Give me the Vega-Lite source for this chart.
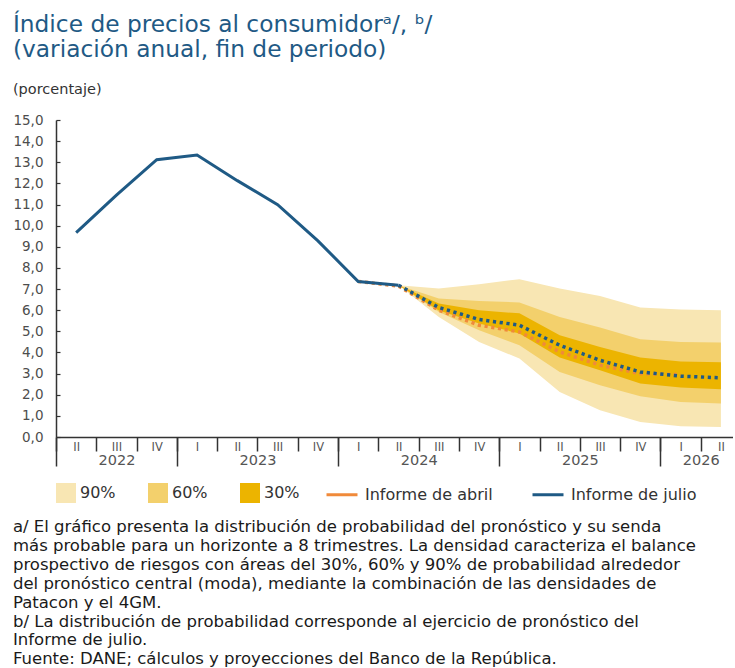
{
  "$schema": "https://vega.github.io/schema/vega-lite/v6.json",
  "padding": {"left": 12, "top": 13, "right": 0, "bottom": 0},
  "config": {
    "view": {"stroke": null},
    "font": "DejaVu Sans",
    "axis": {"grid": false},
    "axisY": {"labelOverlap": false, "labelBound": false},
    "legend": {"layout": {"bottom": {"anchor": "start", "margin": 25}}}
  },
  "title": {
    "text": [
      "a/ El gráfico presenta la distribución de probabilidad del pronóstico y su senda",
      "más probable para un horizonte a 8 trimestres. La densidad caracteriza el balance",
      "prospectivo de riesgos con áreas del 30%, 60% y 90% de probabilidad alrededor",
      "del pronóstico central (moda), mediante la combinación de las densidades de",
      "Patacon y el 4GM.",
      "b/ La distribución de probabilidad corresponde al ejercicio de pronóstico del",
      "Informe de julio.",
      "Fuente: DANE; cálculos y proyecciones del Banco de la República."
    ],
    "orient": "bottom",
    "anchor": "start",
    "frame": "bounds",
    "font": "DejaVu Sans",
    "fontSize": 16.5,
    "fontWeight": "normal",
    "color": "#1a1a1a",
    "lineHeight": 18.9,
    "offset": 16
  },
  "datasets": {
    "hist": [
      {"t": 0.5, "v": 9.67, "serie": "Informe de julio"},
      {"t": 1.5, "v": 11.44, "serie": "Informe de julio"},
      {"t": 2.5, "v": 13.12, "serie": "Informe de julio"},
      {"t": 3.5, "v": 13.34, "serie": "Informe de julio"},
      {"t": 4.5, "v": 12.13, "serie": "Informe de julio"},
      {"t": 5.5, "v": 10.99, "serie": "Informe de julio"},
      {"t": 6.5, "v": 9.28, "serie": "Informe de julio"},
      {"t": 7.5, "v": 7.36, "serie": "Informe de julio"},
      {"t": 8.5, "v": 7.18, "serie": "Informe de julio"}
    ],
    "julio": [
      {"t": 8.5, "v": 7.18, "serie": "Informe de julio"},
      {"t": 9.5, "v": 6.13, "serie": "Informe de julio"},
      {"t": 10.5, "v": 5.56, "serie": "Informe de julio"},
      {"t": 11.5, "v": 5.29, "serie": "Informe de julio"},
      {"t": 12.5, "v": 4.34, "serie": "Informe de julio"},
      {"t": 13.5, "v": 3.63, "serie": "Informe de julio"},
      {"t": 14.5, "v": 3.08, "serie": "Informe de julio"},
      {"t": 15.5, "v": 2.88, "serie": "Informe de julio"},
      {"t": 16.5, "v": 2.80, "serie": "Informe de julio"}
    ],
    "abril": [
      {"t": 7.5, "v": 7.36, "serie": "Informe de abril"},
      {"t": 8.5, "v": 7.14, "serie": "Informe de abril"},
      {"t": 9.5, "v": 6.00, "serie": "Informe de abril"},
      {"t": 10.5, "v": 5.29, "serie": "Informe de abril"},
      {"t": 11.5, "v": 4.97, "serie": "Informe de abril"},
      {"t": 12.5, "v": 4.03, "serie": "Informe de abril"},
      {"t": 13.5, "v": 3.40, "serie": "Informe de abril"},
      {"t": 14.5, "v": 3.00, "serie": "Informe de abril"},
      {"t": 15.5, "v": 2.95, "serie": "Informe de abril"}
    ],
    "fan": [
      {"t": 8.5, "band": "90%", "lo": 7.18, "hi": 7.18},
      {"t": 9.5, "band": "90%", "lo": 5.68, "hi": 7.03},
      {"t": 10.5, "band": "90%", "lo": 4.50, "hi": 7.23},
      {"t": 11.5, "band": "90%", "lo": 3.71, "hi": 7.47},
      {"t": 12.5, "band": "90%", "lo": 2.13, "hi": 7.03},
      {"t": 13.5, "band": "90%", "lo": 1.26, "hi": 6.67},
      {"t": 14.5, "band": "90%", "lo": 0.71, "hi": 6.13},
      {"t": 15.5, "band": "90%", "lo": 0.51, "hi": 6.03},
      {"t": 16.5, "band": "90%", "lo": 0.47, "hi": 6.00},
      {"t": 8.5, "band": "60%", "lo": 7.18, "hi": 7.18},
      {"t": 9.5, "band": "60%", "lo": 5.92, "hi": 6.55},
      {"t": 10.5, "band": "60%", "lo": 5.05, "hi": 6.43},
      {"t": 11.5, "band": "60%", "lo": 4.34, "hi": 6.37},
      {"t": 12.5, "band": "60%", "lo": 3.08, "hi": 5.68},
      {"t": 13.5, "band": "60%", "lo": 2.45, "hi": 5.18},
      {"t": 14.5, "band": "60%", "lo": 1.93, "hi": 4.63},
      {"t": 15.5, "band": "60%", "lo": 1.66, "hi": 4.50},
      {"t": 16.5, "band": "60%", "lo": 1.58, "hi": 4.47},
      {"t": 8.5, "band": "30%", "lo": 7.18, "hi": 7.18},
      {"t": 9.5, "band": "30%", "lo": 5.98, "hi": 6.32},
      {"t": 10.5, "band": "30%", "lo": 5.37, "hi": 6.00},
      {"t": 11.5, "band": "30%", "lo": 4.90, "hi": 5.85},
      {"t": 12.5, "band": "30%", "lo": 3.76, "hi": 4.82},
      {"t": 13.5, "band": "30%", "lo": 3.16, "hi": 4.26},
      {"t": 14.5, "band": "30%", "lo": 2.53, "hi": 3.76},
      {"t": 15.5, "band": "30%", "lo": 2.34, "hi": 3.57},
      {"t": 16.5, "band": "30%", "lo": 2.26, "hi": 3.54}
    ]
  },
  "vconcat": [
    {
      "width": 677,
      "height": 317,
      "title": {
        "text": ["Índice de precios al consumidorᵃ/, ᵇ/", "(variación anual, fin de periodo)"],
        "subtitle": "(porcentaje)",
        "anchor": "start",
        "frame": "bounds",
        "font": "DejaVu Sans",
        "fontSize": 23.3,
        "fontWeight": "normal",
        "color": "#1F5A85",
        "lineHeight": 25,
        "subtitleFont": "DejaVu Sans",
        "subtitleFontSize": 14.5,
        "subtitleColor": "#333333",
        "subtitlePadding": 20,
        "offset": 16
      },
      "resolve": {"axis": {"x": "independent", "y": "shared"}},
      "layer": [
        {
          "data": {"name": "fan"},
          "transform": [{"filter": "datum.band === '90%'"}],
          "mark": {"type": "area", "opacity": 1},
          "encoding": {
            "x": {
              "field": "t", "type": "quantitative",
              "scale": {"domain": [0, 16.8], "nice": false, "zero": false},
              "axis": {
                "orient": "bottom", "title": null,
                "values": [0.5, 1.5, 2.5, 3.5, 4.5, 5.5, 6.5, 7.5, 8.5, 9.5, 10.5, 11.5, 12.5, 13.5, 14.5, 15.5, 16.5],
                "ticks": false, "domain": true, "domainColor": "#333333", "domainWidth": 1.5,
                "labelExpr": "['I','II','III','IV'][(floor(datum.value)+1)%4]",
                "labelFont": "DejaVu Sans", "labelFontSize": 11.5, "labelColor": "#555555",
                "labelPadding": 4, "labelFlush": false, "labelOverlap": false
              }
            },
            "y": {
              "field": "lo", "type": "quantitative", "title": null,
              "scale": {"domain": [0, 15], "nice": false},
              "axis": {
                "title": null,
                "values": [0, 1, 2, 3, 4, 5, 6, 7, 8, 9, 10, 11, 12, 13, 14, 15],
                "labelExpr": "replace(format(datum.value, '.1f'), '.', ',')",
                "labelFont": "DejaVu Sans", "labelFontSize": 13.5, "labelColor": "#4d4d4d",
                "tickSize": -4, "tickColor": "#333333", "tickWidth": 1.2,
                "labelPadding": 17,
                "domainColor": "#333333", "domainWidth": 1.5,
                "labelFlush": false, "labelOverlap": false
              }
            },
            "y2": {"field": "hi"},
            "color": {
              "field": "band", "type": "nominal",
              "scale": {"domain": ["90%", "60%", "30%"], "range": ["#F8E6B3", "#F3D06C", "#ECB400"]},
              "legend": {
                "orient": "bottom", "direction": "horizontal", "title": null,
                "symbolType": "square", "symbolSize": 400, "symbolStrokeWidth": 0, "symbolOpacity": 1,
                "labelFont": "DejaVu Sans", "labelFontSize": 16, "labelColor": "#333333",
                "labelOffset": 4, "columnPadding": 32, "offset": 16, "padding": 0
              }
            }
          }
        },
        {
          "data": {"name": "fan"},
          "transform": [{"filter": "datum.band === '60%'"}],
          "mark": {"type": "area", "opacity": 1},
          "encoding": {
            "x": {
              "field": "t", "type": "quantitative",
              "axis": {
                "orient": "bottom", "title": null,
                "values": [0, 1, 2, 3, 4, 5, 6, 7, 8, 9, 10, 11, 12, 13, 14, 15, 16],
                "ticks": true, "tickSize": 14, "tickColor": "#333333", "tickWidth": 1.5,
                "labels": false, "domain": false
              }
            },
            "y": {
              "field": "lo", "type": "quantitative", "title": null,
              "axis": {
                "title": null,
                "values": [0, 1, 2, 3, 4, 5, 6, 7, 8, 9, 10, 11, 12, 13, 14, 15],
                "labelExpr": "replace(format(datum.value, '.1f'), '.', ',')",
                "labelFont": "DejaVu Sans", "labelFontSize": 13.5, "labelColor": "#4d4d4d",
                "tickSize": -4, "tickColor": "#333333", "tickWidth": 1.2,
                "labelPadding": 17,
                "domainColor": "#333333", "domainWidth": 1.5,
                "labelFlush": false, "labelOverlap": false
              }
            },
            "y2": {"field": "hi"},
            "color": {"field": "band", "type": "nominal"}
          }
        },
        {
          "data": {"name": "fan"},
          "transform": [{"filter": "datum.band === '30%'"}],
          "mark": {"type": "area", "opacity": 1},
          "encoding": {
            "x": {
              "field": "t", "type": "quantitative",
              "axis": {
                "orient": "bottom", "title": null,
                "values": [0, 3, 7, 11, 15],
                "ticks": true, "tickSize": 29, "tickColor": "#333333", "tickWidth": 1.5,
                "labels": false, "domain": false
              }
            },
            "y": {
              "field": "lo", "type": "quantitative", "title": null,
              "axis": {
                "title": null,
                "values": [0, 1, 2, 3, 4, 5, 6, 7, 8, 9, 10, 11, 12, 13, 14, 15],
                "labelExpr": "replace(format(datum.value, '.1f'), '.', ',')",
                "labelFont": "DejaVu Sans", "labelFontSize": 13.5, "labelColor": "#4d4d4d",
                "tickSize": -4, "tickColor": "#333333", "tickWidth": 1.2,
                "labelPadding": 17,
                "domainColor": "#333333", "domainWidth": 1.5,
                "labelFlush": false, "labelOverlap": false
              }
            },
            "y2": {"field": "hi"},
            "color": {"field": "band", "type": "nominal"}
          }
        },
        {
          "data": {"name": "abril"},
          "mark": {"type": "line", "strokeWidth": 3.5, "strokeDash": [3.2, 3.6]},
          "encoding": {
            "x": {"field": "t", "type": "quantitative", "axis": null},
            "y": {
              "field": "v", "type": "quantitative", "title": null,
              "axis": {
                "title": null,
                "values": [0, 1, 2, 3, 4, 5, 6, 7, 8, 9, 10, 11, 12, 13, 14, 15],
                "labelExpr": "replace(format(datum.value, '.1f'), '.', ',')",
                "labelFont": "DejaVu Sans", "labelFontSize": 13.5, "labelColor": "#4d4d4d",
                "tickSize": -4, "tickColor": "#333333", "tickWidth": 1.2,
                "labelPadding": 17,
                "domainColor": "#333333", "domainWidth": 1.5,
                "labelFlush": false, "labelOverlap": false
              }
            },
            "stroke": {
              "field": "serie", "type": "nominal",
              "scale": {"domain": ["Informe de abril", "Informe de julio"], "range": ["#F08A3A", "#1F5A85"]},
              "legend": {
                "orient": "bottom", "direction": "horizontal", "title": null,
                "symbolType": "M-1,0H2.1", "symbolSize": 400, "symbolStrokeWidth": 3,
                "labelFont": "DejaVu Sans", "labelFontSize": 16, "labelColor": "#333333",
                "labelOffset": 17, "columnPadding": 33, "offset": 16, "padding": 0
              }
            }
          }
        },
        {
          "data": {"name": "hist"},
          "mark": {"type": "line", "strokeWidth": 3},
          "encoding": {
            "x": {
              "field": "t", "type": "quantitative",
              "axis": {
                "orient": "bottom", "title": null,
                "values": [1.5, 5, 9, 13, 16],
                "ticks": false, "domain": false,
                "labelExpr": "datum.value < 3 ? '2022' : datum.value < 7 ? '2023' : datum.value < 11 ? '2024' : datum.value < 15 ? '2025' : '2026'",
                "labelFont": "DejaVu Sans", "labelFontSize": 14.5, "labelColor": "#555555",
                "labelPadding": 16.5, "labelFlush": false, "labelOverlap": false
              }
            },
            "y": {
              "field": "v", "type": "quantitative", "title": null,
              "axis": {
                "title": null,
                "values": [0, 1, 2, 3, 4, 5, 6, 7, 8, 9, 10, 11, 12, 13, 14, 15],
                "labelExpr": "replace(format(datum.value, '.1f'), '.', ',')",
                "labelFont": "DejaVu Sans", "labelFontSize": 13.5, "labelColor": "#4d4d4d",
                "tickSize": -4, "tickColor": "#333333", "tickWidth": 1.2,
                "labelPadding": 17,
                "domainColor": "#333333", "domainWidth": 1.5,
                "labelFlush": false, "labelOverlap": false
              }
            },
            "stroke": {"field": "serie", "type": "nominal"}
          }
        },
        {
          "data": {"name": "julio"},
          "mark": {"type": "line", "strokeWidth": 3.5, "strokeDash": [3.2, 3.6]},
          "encoding": {
            "x": {"field": "t", "type": "quantitative", "axis": null},
            "y": {
              "field": "v", "type": "quantitative", "title": null,
              "axis": {
                "title": null,
                "values": [0, 1, 2, 3, 4, 5, 6, 7, 8, 9, 10, 11, 12, 13, 14, 15],
                "labelExpr": "replace(format(datum.value, '.1f'), '.', ',')",
                "labelFont": "DejaVu Sans", "labelFontSize": 13.5, "labelColor": "#4d4d4d",
                "tickSize": -4, "tickColor": "#333333", "tickWidth": 1.2,
                "labelPadding": 17,
                "domainColor": "#333333", "domainWidth": 1.5,
                "labelFlush": false, "labelOverlap": false
              }
            },
            "stroke": {"field": "serie", "type": "nominal"}
          }
        }
      ]
    }
  ]
}
